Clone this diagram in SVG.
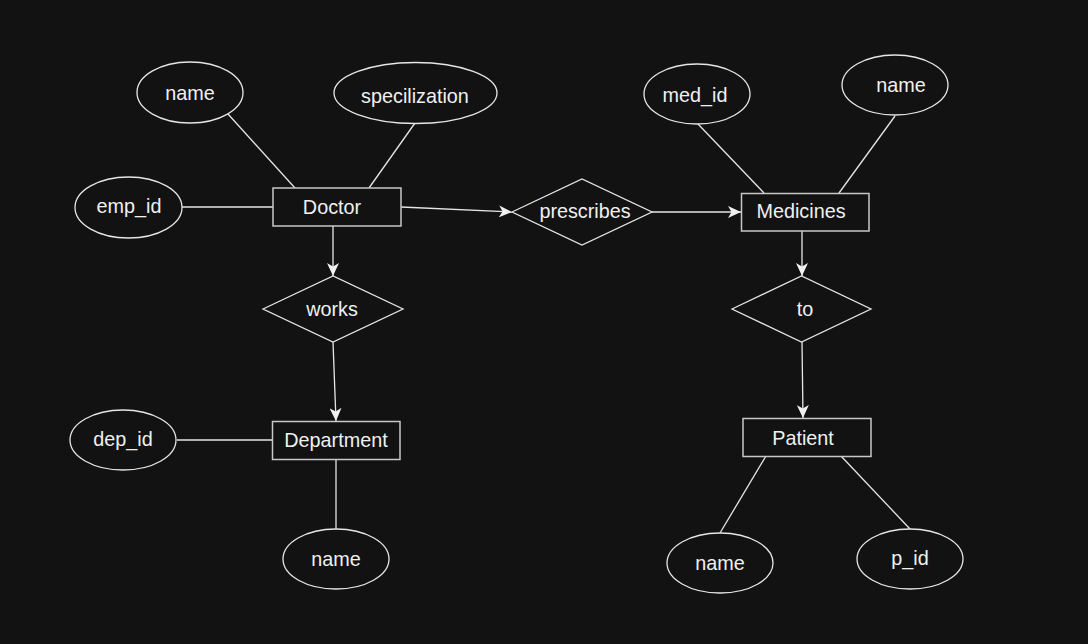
<svg xmlns="http://www.w3.org/2000/svg" width="1088" height="644" viewBox="0 0 1088 644">
<style>
.ent{fill:#121212;stroke:#c8c8c8;stroke-width:1.5}
.att{fill:#121212;stroke:#e6e6e6;stroke-width:1.3}
.rel{fill:#121212;stroke:#e6e6e6;stroke-width:1.3}
.ln{fill:none;stroke:#e6e6e6;stroke-width:1.3}
text{font-family:"Liberation Sans",Arial,sans-serif;font-size:19.8px;fill:#f0f0f0;text-anchor:middle}
</style>
<defs>
<marker id="arr" markerUnits="userSpaceOnUse" markerWidth="14" markerHeight="12" viewBox="0 0 14 12" refX="13" refY="6" orient="auto">
<path d="M0,0 L13,6 L0,12 L3.5,6 Z" fill="#f0f0f0"/>
</marker>
</defs>
<rect width="1088" height="644" fill="#121212"/>
<g id="connectors">
<line class="ln" x1="228" y1="114" x2="295" y2="188"/>
<line class="ln" x1="415" y1="123" x2="369" y2="188"/>
<line class="ln" x1="182" y1="207" x2="273" y2="207"/>
<line class="ln" x1="401" y1="207" x2="512" y2="212" marker-end="url(#arr)"/>
<line class="ln" x1="652" y1="212" x2="741" y2="212" marker-end="url(#arr)"/>
<line class="ln" x1="698" y1="124" x2="764" y2="193"/>
<line class="ln" x1="895" y1="116" x2="839" y2="193"/>
<line class="ln" x1="802" y1="231" x2="802" y2="276" marker-end="url(#arr)"/>
<line class="ln" x1="802" y1="342" x2="803" y2="418" marker-end="url(#arr)"/>
<line class="ln" x1="766" y1="456" x2="720" y2="533"/>
<line class="ln" x1="841" y1="456" x2="910" y2="529"/>
<line class="ln" x1="333" y1="226" x2="333" y2="276" marker-end="url(#arr)"/>
<line class="ln" x1="333" y1="342" x2="336" y2="421" marker-end="url(#arr)"/>
<line class="ln" x1="177" y1="440" x2="272" y2="440"/>
<line class="ln" x1="336" y1="460" x2="336" y2="529"/>
</g>
<g id="doctor"><rect class="ent" x="273" y="188" width="128" height="38"/><text x="332" y="214">Doctor</text></g>
<g id="doctor-name"><ellipse class="att" cx="190" cy="92.5" rx="53" ry="30.5"/><text x="190" y="100">name</text></g>
<g id="specilization"><ellipse class="att" cx="415.5" cy="93" rx="81.5" ry="30.5"/><text x="415" y="103">specilization</text></g>
<g id="emp_id"><ellipse class="att" cx="128.5" cy="207.5" rx="53.5" ry="30.5"/><text x="129" y="213">emp_id</text></g>
<g id="prescribes"><polygon class="rel" points="512,212 582,179 652,212 582,245"/><text x="585" y="218">prescribes</text></g>
<g id="medicines"><rect class="ent" x="741.5" y="193.5" width="127.5" height="37.5"/><text x="801" y="218">Medicines</text></g>
<g id="med_id"><ellipse class="att" cx="697" cy="94" rx="53" ry="30"/><text x="695" y="102">med_id</text></g>
<g id="med-name"><ellipse class="att" cx="895" cy="85" rx="53" ry="30"/><text x="901" y="92">name</text></g>
<g id="to"><polygon class="rel" points="732,309 801.5,276 871,309 801.5,342"/><text x="805" y="316">to</text></g>
<g id="patient"><rect class="ent" x="743" y="418.5" width="128" height="38"/><text x="803" y="445">Patient</text></g>
<g id="patient-name"><ellipse class="att" cx="720" cy="563" rx="53" ry="30"/><text x="720" y="570">name</text></g>
<g id="p_id"><ellipse class="att" cx="910" cy="559" rx="53" ry="30"/><text x="910" y="565">p_id</text></g>
<g id="works"><polygon class="rel" points="263,309 333,276 403,309 333,342"/><text x="332" y="316">works</text></g>
<g id="department"><rect class="ent" x="272.5" y="421.5" width="127.5" height="38"/><text x="336" y="447">Department</text></g>
<g id="dep_id"><ellipse class="att" cx="123" cy="440" rx="53" ry="30"/><text x="123" y="446">dep_id</text></g>
<g id="dept-name"><ellipse class="att" cx="336" cy="559" rx="53" ry="30"/><text x="336" y="566">name</text></g>
</svg>
